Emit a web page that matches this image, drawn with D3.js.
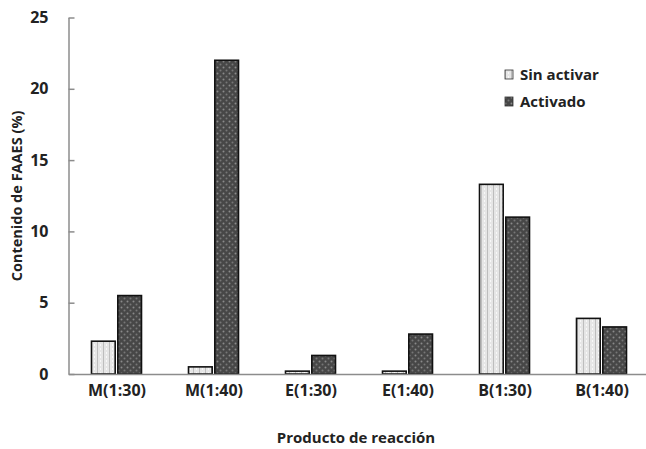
<!DOCTYPE html>
<html><head><meta charset="utf-8">
<script src="https://cdn.jsdelivr.net/npm/d3@7"></script>
<style>body{margin:0;background:#fff}svg{display:block}text{font-family:"Open Sans","Noto Sans",sans-serif;font-weight:bold;fill:#222}</style>
</head><body>
<svg id="c" width="646" height="449"></svg>
<script>
const categories = ["M(1:30)","M(1:40)","E(1:30)","E(1:40)","B(1:30)","B(1:40)"];
const series = ["Sin activar","Activado"];
const sinActivar = [2.3, 0.5, 0.2, 0.2, 13.3, 3.9];
const activado = [5.5, 22.0, 1.3, 2.8, 11.0, 3.3];
const yTicks = [0,5,10,15,20,25];
const values = [sinActivar, activado];

const svg = d3.select("#c");
const defs = svg.append("defs");
const p1 = defs.append("pattern").attr("id","pLight").attr("width",6).attr("height",4).attr("patternUnits","userSpaceOnUse");
p1.append("rect").attr("width",6).attr("height",4).attr("fill","#e6e6e6");
p1.append("rect").attr("x",1).attr("width",1).attr("height",4).attr("fill","#bdbdbd");
p1.append("rect").attr("x",4).attr("y",0).attr("width",1).attr("height",2).attr("fill","#f8f8f8");
const p2 = defs.append("pattern").attr("id","pDark").attr("width",6).attr("height",6).attr("patternUnits","userSpaceOnUse");
p2.append("rect").attr("width",6).attr("height",6).attr("fill","#474747");
p2.append("circle").attr("cx",1.5).attr("cy",1.5).attr("r",1).attr("fill","#8a8a8a");
p2.append("circle").attr("cx",4.5).attr("cy",4.5).attr("r",1).attr("fill","#777");
const fills = ["url(#pLight)","url(#pDark)"];

const y = d3.scaleLinear().domain([0,25]).range([374,17.5]);
const x0 = d3.scaleBand().domain(categories).range([68.5,650.5]).padding(0);
const x1 = d3.scaleBand().domain(series).range([23,73]).paddingInner(0.1);

categories.forEach((c,i)=>{
  series.forEach((s,j)=>{
    svg.append("rect")
      .attr("x", x0(c)+x1(s))
      .attr("y", y(values[j][i]))
      .attr("width", x1.bandwidth())
      .attr("height", y(0)-y(values[j][i]))
      .attr("fill", fills[j])
      .attr("stroke","#111").attr("stroke-width",1.6);
  });
});

const ya = svg.append("g").attr("transform","translate(68.5,0)")
  .call(d3.axisLeft(y).tickValues(yTicks).tickSize(-6).tickPadding(20).tickSizeOuter(0));
ya.select(".domain").attr("stroke","#8c8c8c").attr("stroke-width",1.5);
ya.selectAll(".tick line").attr("stroke","#8c8c8c").attr("stroke-width",1.5);
ya.selectAll(".tick text").style("font-size","16px").attr("fill","#222").attr("font-family",null);

const xa = svg.append("g").attr("transform","translate(0,374)")
  .call(d3.axisBottom(x0).tickSize(0).tickPadding(11).tickSizeOuter(0));
xa.select(".domain").attr("stroke","#8c8c8c").attr("stroke-width",1.5);
xa.selectAll(".tick text").style("font-size","16px").attr("fill","#222").attr("font-family",null);

svg.append("text").attr("transform","translate(22,196) rotate(-90)").attr("text-anchor","middle")
  .style("font-size","14.5px").text("Contenido de FAAES (%)");
svg.append("text").attr("x",356).attr("y",443).attr("text-anchor","middle")
  .style("font-size","15px").text("Producto de reacción");

const lg = svg.append("g");
series.forEach((s,j)=>{
  const yy = 75 + j*27;
  lg.append("rect").attr("x",505).attr("y",yy-5).attr("width",8).attr("height",9)
    .attr("fill",fills[j]).attr("stroke","#333").attr("stroke-width",0.8);
  lg.append("text").attr("x",520).attr("y",yy+5).style("font-size","15px").text(s);
});
</script>
</body></html>
